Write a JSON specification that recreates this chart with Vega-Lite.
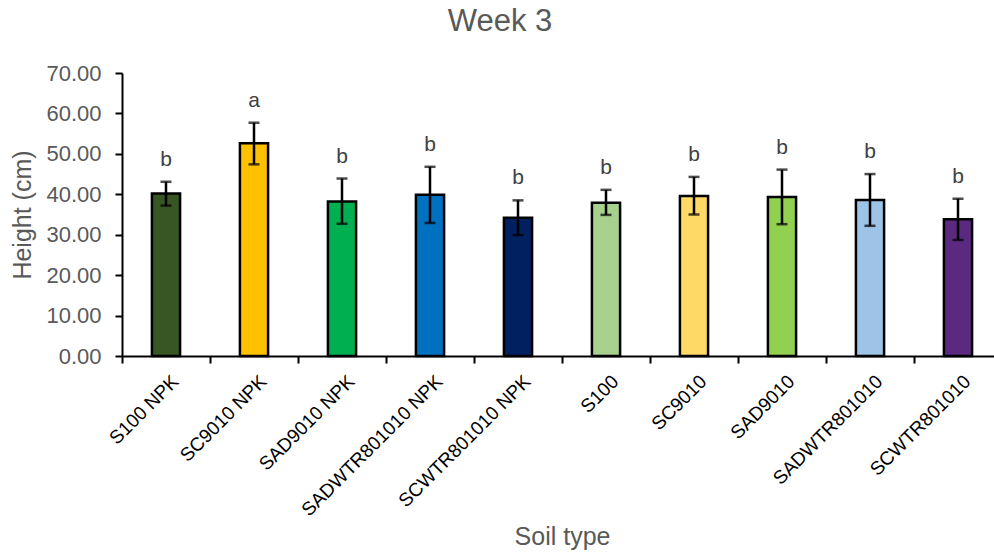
{
  "$schema": "https://vega.github.io/schema/vega-lite/v6.json",
  "autosize": "none",
  "width": 872,
  "height": 283,
  "padding": {"left": 122, "top": 73, "right": 0, "bottom": 202},
  "background": "white",
  "title": {
    "text": "Week 3",
    "fontSize": 31,
    "font": "Liberation Sans",
    "fontWeight": "normal",
    "color": "#595959",
    "anchor": "middle",
    "frame": "group",
    "dx": -58,
    "offset": 24
  },
  "config": {
    "view": {"stroke": null},
    "font": "Liberation Sans"
  },
  "data": {
    "values": [
      {"soil": "S100 NPK", "mean": 40.2, "lower": 37.2, "upper": 43.1, "letter": "b"},
      {"soil": "SC9010 NPK", "mean": 52.6, "lower": 47.4, "upper": 57.7, "letter": "a"},
      {"soil": "SAD9010 NPK", "mean": 38.2, "lower": 32.7, "upper": 43.9, "letter": "b"},
      {"soil": "SADWTR801010 NPK", "mean": 39.9, "lower": 32.9, "upper": 46.8, "letter": "b"},
      {"soil": "SCWTR801010 NPK", "mean": 34.2, "lower": 29.9, "upper": 38.5, "letter": "b"},
      {"soil": "S100", "mean": 37.9, "lower": 34.9, "upper": 41.1, "letter": "b"},
      {"soil": "SC9010", "mean": 39.6, "lower": 35.0, "upper": 44.3, "letter": "b"},
      {"soil": "SAD9010", "mean": 39.3, "lower": 32.6, "upper": 46.1, "letter": "b"},
      {"soil": "SADWTR801010", "mean": 38.6, "lower": 32.2, "upper": 45.0, "letter": "b"},
      {"soil": "SCWTR801010", "mean": 33.8, "lower": 28.7, "upper": 38.9, "letter": "b"}
    ]
  },
  "encoding": {
    "x": {
      "field": "soil",
      "type": "nominal",
      "sort": null,
      "scale": {"range": [0, 880], "paddingInner": 0, "paddingOuter": 0},
      "axis": {
        "title": "Soil type",
        "titleFontSize": 25,
        "titleFontWeight": "normal",
        "titleColor": "#595959",
        "titleY": 168,
        "titleBaseline": "top",
        "labelAngle": -45,
        "labelAlign": "right",
        "labelBaseline": "middle",
        "labelFontSize": 19,
        "labelColor": "#000000",
        "labelPadding": 15,
        "labelOffset": 9,
        "labelLimit": 400,
        "tickBand": "extent",
        "tickSize": 7,
        "tickWidth": 2,
        "tickColor": "#000000",
        "domainColor": "#000000",
        "domainWidth": 2,
        "labelOverlap": false
      }
    }
  },
  "layer": [
    {
      "mark": {"type": "bar", "width": {"band": 0.32}, "stroke": "#000000", "strokeWidth": 2.5},
      "encoding": {
        "y": {
          "field": "mean",
          "type": "quantitative",
          "scale": {"domain": [0, 70]},
          "axis": {
            "title": "Height (cm)",
            "titleFontSize": 25,
            "titleFontWeight": "normal",
            "titleColor": "#595959",
            "titlePadding": 10,
            "values": [0, 10, 20, 30, 40, 50, 60, 70],
            "format": ".2f",
            "labelFontSize": 22,
            "labelColor": "#595959",
            "labelPadding": 14,
            "tickSize": 7,
            "tickWidth": 2,
            "tickColor": "#000000",
            "domainColor": "#000000",
            "domainWidth": 2,
            "grid": false
          }
        },
        "color": {
          "field": "soil",
          "type": "nominal",
          "sort": null,
          "legend": null,
          "scale": {
            "domain": ["S100 NPK", "SC9010 NPK", "SAD9010 NPK", "SADWTR801010 NPK", "SCWTR801010 NPK", "S100", "SC9010", "SAD9010", "SADWTR801010", "SCWTR801010"],
            "range": ["#375623", "#FFC000", "#00B050", "#0070C0", "#002060", "#A9D18E", "#FFD966", "#92D050", "#9DC3E6", "#5B2A80"]
          }
        }
      }
    },
    {
      "mark": {"type": "rule", "color": "#000000", "strokeWidth": 2.5},
      "encoding": {
        "y": {"field": "lower", "type": "quantitative"},
        "y2": {"field": "upper"}
      }
    },
    {
      "mark": {"type": "tick", "color": "#000000", "thickness": 2.5, "size": 11},
      "encoding": {
        "y": {"field": "lower", "type": "quantitative"}
      }
    },
    {
      "mark": {"type": "tick", "color": "#000000", "thickness": 2.5, "size": 11},
      "encoding": {
        "y": {"field": "upper", "type": "quantitative"}
      }
    },
    {
      "mark": {"type": "text", "fontSize": 21, "color": "#404040", "baseline": "alphabetic", "dy": -16},
      "encoding": {
        "y": {"field": "upper", "type": "quantitative"},
        "text": {"field": "letter"}
      }
    }
  ]
}
